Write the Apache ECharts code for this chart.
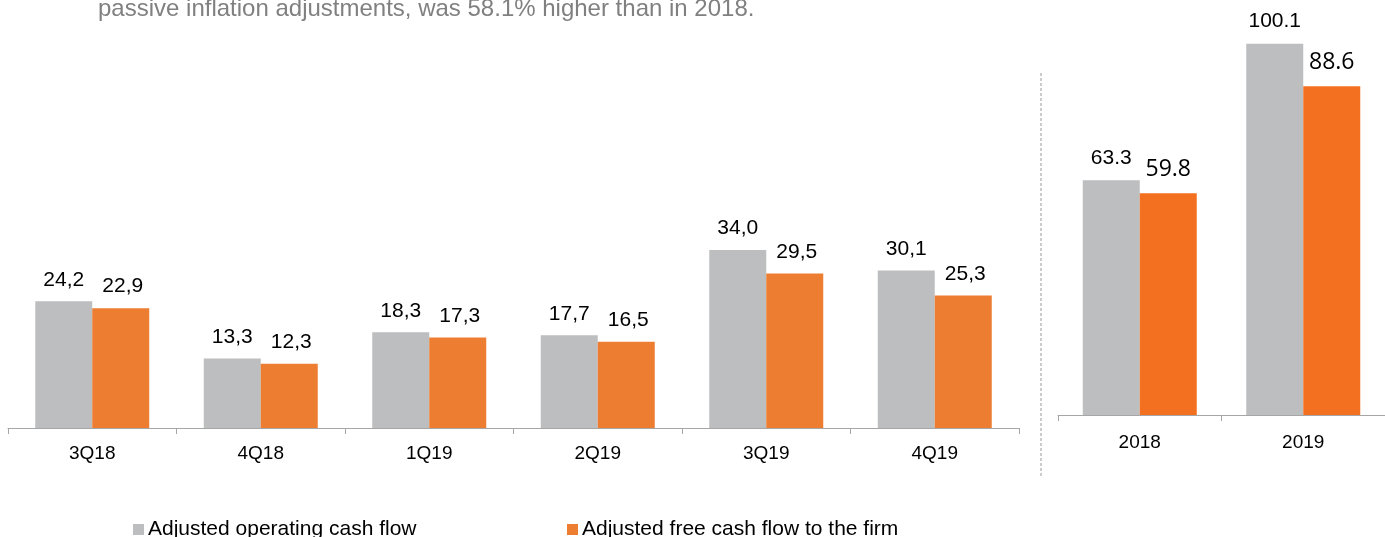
<!DOCTYPE html>
<html>
<head>
<meta charset="utf-8">
<script src="https://cdn.jsdelivr.net/npm/echarts@6/dist/echarts.min.js"></script>
<style>
  html, body { margin: 0; padding: 0; background: #fff; }
  #chart { width: 1385px; height: 537px; }
</style>
</head>
<body>
<div id="chart"></div>
<script>
// 数据
const quarters = ['3Q18', '4Q18', '1Q19', '2Q19', '3Q19', '4Q19'];
const opQuarter = [24.2, 13.3, 18.3, 17.7, 34.0, 30.1];
const fcfQuarter = [22.9, 12.3, 17.3, 16.5, 29.5, 25.3];
const years = ['2018', '2019'];
const opYear = [63.3, 100.1];
const fcfYear = [59.8, 88.6];

const OP_NAME = 'Adjusted operating cash flow';
const FCF_NAME = 'Adjusted free cash flow to the firm';

const gray = '#BDBEC0';
const orangeQ = '#ED7D31';
const orangeY = '#F37021';
const font = 'Liberation Sans, Arial, sans-serif';

const myChart = echarts.init(document.getElementById('chart'));

const axisLine = { lineStyle: { color: '#A6A6A6', width: 1 } };
const axisTick = { show: true, length: 6, lineStyle: { color: '#A6A6A6' } };

const commaLabel = (p) => p.value.toFixed(1).replace('.', ',');

const legendText = { color: '#000', fontSize: 21, fontFamily: font, padding: [0, 0, 0, -1] };

const option = {
  animation: false,
  title: {
    text: 'passive inflation adjustments, was 58.1% higher than in 2018.',
    left: 93,
    top: -8,
    textStyle: { color: '#808080', fontSize: 24, fontWeight: 'normal', fontFamily: font }
  },
  legend: [
    {
      data: [OP_NAME], left: 128, top: 514, icon: 'rect',
      itemWidth: 11, itemHeight: 11, textStyle: legendText
    },
    {
      data: [FCF_NAME], left: 562, top: 514, icon: 'rect',
      itemWidth: 11, itemHeight: 11, textStyle: legendText
    }
  ],
  grid: [
    { left: 8, width: 1011, top: 114, bottom: 109 },
    { left: 1058, width: 334, top: 7, bottom: 122 }
  ],
  xAxis: [
    {
      type: 'category', gridIndex: 0, data: quarters, axisLine, axisTick,
      axisLabel: { color: '#000', fontSize: 19, fontFamily: font, margin: 16 }
    },
    {
      type: 'category', gridIndex: 1, data: years, axisLine, axisTick,
      axisLabel: { color: '#000', fontSize: 19, fontFamily: font, margin: 18 }
    }
  ],
  yAxis: [
    { type: 'value', gridIndex: 0, min: 0, max: 60, show: false, splitLine: { show: false } },
    { type: 'value', gridIndex: 1, min: 0, max: 110, show: false, splitLine: { show: false } }
  ],
  graphic: [
    {
      type: 'line',
      shape: { x1: 1041, y1: 73, x2: 1041, y2: 478 },
      style: { stroke: '#999', lineWidth: 1, lineDash: [3, 2] }
    }
  ],
  series: [
    {
      name: OP_NAME, type: 'bar', xAxisIndex: 0, yAxisIndex: 0,
      data: opQuarter, barWidth: 57, barGap: 0,
      itemStyle: { color: gray },
      label: { show: true, position: 'top', distance: 11, color: '#000', fontSize: 21, fontFamily: font, formatter: commaLabel }
    },
    {
      name: FCF_NAME, type: 'bar', xAxisIndex: 0, yAxisIndex: 0,
      data: fcfQuarter, barWidth: 57, barGap: 0,
      itemStyle: { color: orangeQ },
      label: { show: true, position: 'top', distance: 11, offset: [2, 0], color: '#000', fontSize: 21, fontFamily: font, formatter: commaLabel }
    },
    {
      name: OP_NAME, type: 'bar', xAxisIndex: 1, yAxisIndex: 1,
      data: opYear, barWidth: 57, barGap: 0,
      itemStyle: { color: gray },
      label: { show: true, position: 'top', distance: 12, color: '#000', fontSize: 21, fontFamily: font,
        formatter: (p) => p.value.toFixed(1) }
    },
    {
      name: FCF_NAME, type: 'bar', xAxisIndex: 1, yAxisIndex: 1,
      data: fcfYear, barWidth: 57, barGap: 0,
      itemStyle: { color: orangeY },
      label: { show: true, position: 'top', distance: 12, color: '#000', fontSize: 23, fontFamily: 'Open Sans, sans-serif',
        formatter: (p) => p.value.toFixed(1) }
    }
  ]
};

myChart.setOption(option);
</script>
</body>
</html>
